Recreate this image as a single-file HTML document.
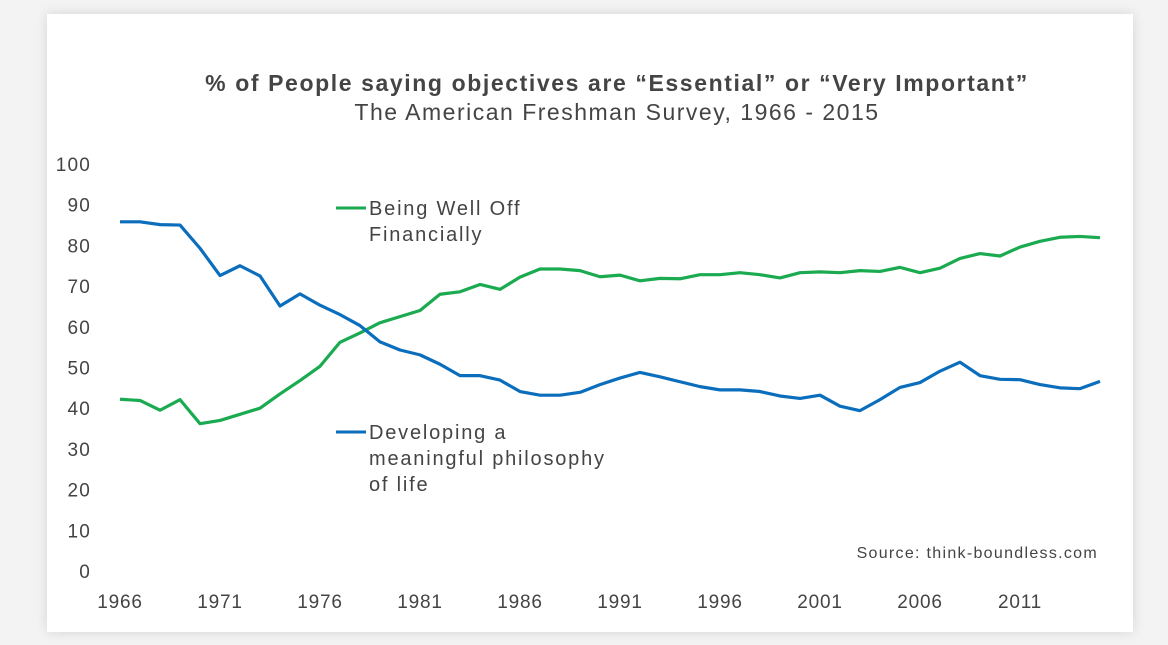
<!DOCTYPE html>
<html><head><meta charset="utf-8"><style>
body{margin:0;width:1168px;height:645px;background:#f3f3f3;overflow:hidden;font-family:"Liberation Sans",sans-serif}
#card{position:absolute;left:47px;top:14px;width:1086px;height:618px;background:#fff;box-shadow:0 0 12px rgba(0,0,0,0.12)}
svg{position:absolute;left:0;top:0}
text{fill:#444}
</style></head><body>
<div id="card"></div>
<svg width="1168" height="645" id="chart">
<text x="617" y="91" text-anchor="middle" font-size="23" font-weight="bold" letter-spacing="1.6">% of People saying objectives are “Essential” or “Very Important”</text>
<text x="617" y="120" text-anchor="middle" font-size="23" letter-spacing="1.5">The American Freshman Survey, 1966 - 2015</text>
<text x="1098" y="558" text-anchor="end" font-size="16" fill="#333" letter-spacing="1.3">Source: think-boundless.com</text>
<g id="yaxis"></g>
<g id="xaxis"></g>
<g id="series"></g>
<g>
<line x1="336" y1="208" x2="366" y2="208" stroke="#1aaa50" stroke-width="3"/>
<text x="369" y="215" font-size="20" letter-spacing="1.8">Being Well Off</text>
<text x="369" y="241" font-size="20" letter-spacing="1.8">Financially</text>
</g>
<g>
<line x1="336" y1="432" x2="366" y2="432" stroke="#0a6ebd" stroke-width="3"/>
<text x="369" y="439" font-size="20" letter-spacing="1.8">Developing a</text>
<text x="369" y="465" font-size="20" letter-spacing="1.8">meaningful philosophy</text>
<text x="369" y="491" font-size="20" letter-spacing="1.8">of life</text>
</g>
</svg>
<script>
const years=[];for(let y=1966;y<=2015;y++)years.push(y);
const wellOff=[42.2,41.9,39.5,42.1,36.2,37.0,38.5,40.0,43.5,46.8,50.3,56.2,58.5,61.0,62.5,64.0,68.0,68.6,70.4,69.2,72.2,74.2,74.2,73.8,72.3,72.7,71.3,71.9,71.8,72.8,72.8,73.3,72.8,72.0,73.3,73.5,73.3,73.8,73.6,74.6,73.3,74.4,76.8,78.0,77.4,79.6,81.0,82.0,82.2,81.9];
const philosophy=[85.8,85.8,85.1,85.0,79.3,72.6,75.0,72.5,65.1,68.1,65.3,63.0,60.3,56.3,54.3,53.1,50.8,48.0,48.0,46.9,44.1,43.2,43.2,43.9,45.8,47.4,48.8,47.7,46.5,45.3,44.5,44.5,44.1,43.0,42.4,43.2,40.5,39.4,42.1,45.1,46.3,49.1,51.3,48.0,47.1,47.0,45.8,45.0,44.8,46.6];
const yTicks=[0,10,20,30,40,50,60,70,80,90,100];
const xTicks=[1966,1971,1976,1981,1986,1991,1996,2001,2006,2011];
const NS="http://www.w3.org/2000/svg";
const X=y=>120+(y-1966)*20.0;
const Y=v=>571-v*4.07;
const ya=document.getElementById('yaxis'),xa=document.getElementById('xaxis'),sg=document.getElementById('series');
yTicks.forEach(t=>{const e=document.createElementNS(NS,'text');


e.setAttribute('x',91);e.setAttribute('y',Y(t)+7);e.setAttribute('text-anchor','end');e.setAttribute('font-size','19');e.setAttribute('letter-spacing','1.2');e.textContent=t;ya.appendChild(e);});
xTicks.forEach(t=>{const e=document.createElementNS(NS,'text');


e.setAttribute('x',X(t));e.setAttribute('y',608);e.setAttribute('text-anchor','middle');e.setAttribute('font-size','19');e.setAttribute('letter-spacing','0.8');e.textContent=t;xa.appendChild(e);});
function line(vals,color,name){const p=document.createElementNS(NS,'polyline');


p.setAttribute('points',vals.map((v,i)=>X(years[i])+','+Y(v)).join(' '));
p.setAttribute('fill','none');p.setAttribute('stroke',color);p.setAttribute('stroke-width','3.2');p.setAttribute('stroke-linejoin','round');sg.appendChild(p);}
line(wellOff,'#1aaa50','series-well-off');
line(philosophy,'#0a6ebd','series-philosophy');
</script>
</body></html>
